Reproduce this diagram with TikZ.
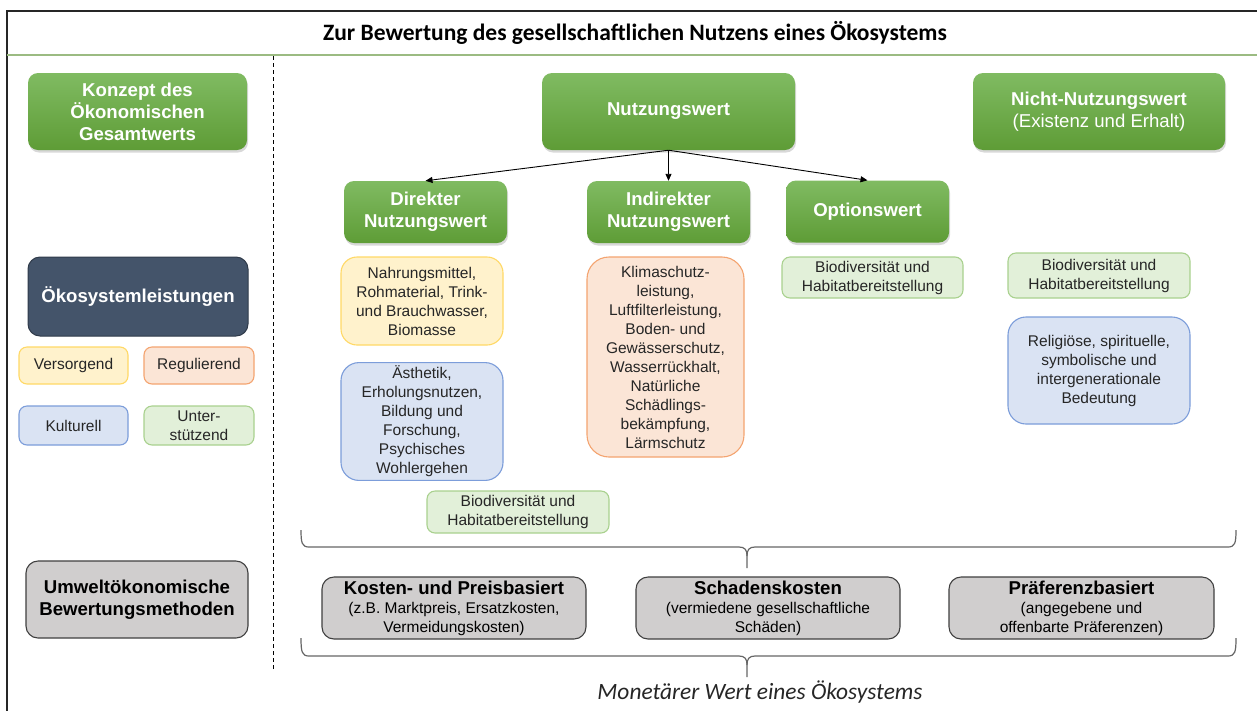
\documentclass[tikz,border=0pt]{standalone}
\usepackage{fontspec}
\setmainfont{Liberation Sans}
\newfontfamily\calibri{Carlito}
\usetikzlibrary{shadows,arrows.meta}

\definecolor{gtop}{HTML}{80BB62}
\definecolor{gbot}{HTML}{5E9C36}
\definecolor{slate}{HTML}{44546A}
\definecolor{yfill}{HTML}{FFF2CC}
\definecolor{yline}{HTML}{FFD966}
\definecolor{ofill}{HTML}{FBE5D6}
\definecolor{oline}{HTML}{F4A470}
\definecolor{bfill}{HTML}{DAE3F3}
\definecolor{bline}{HTML}{7C9DDA}
\definecolor{lgfill}{HTML}{E2F0D9}
\definecolor{lgline}{HTML}{A9D18E}
\definecolor{grfill}{HTML}{D0CECE}
\definecolor{txt}{HTML}{262626}
\definecolor{sepline}{HTML}{9BBB82}

\tikzset{
  big/.style={font=\fontsize{18.6}{22}\selectfont\bfseries},
  small/.style={font=\fontsize{15.5}{19}\selectfont},
  gbox/.style={big, align=center, text=white, rounded corners=10pt,
    top color=gtop, bottom color=gbot,
    drop shadow={opacity=0.3, shadow xshift=1pt, shadow yshift=-2.5pt}},
  dbox/.style={big, align=center, text=white, rounded corners=12pt,
    fill=slate, draw=slate!70!black, line width=1pt},
  tag/.style 2 args={small, align=center, text=txt, fill=#1, draw=#2,
    line width=1.1pt},
  mbox/.style={small, align=center, text=black, rounded corners=12pt,
    fill=grfill, draw=black!75, line width=1.1pt},
  arr/.style={-{Triangle[length=7pt,width=6pt]}, line width=0.9pt},
  brace/.style={draw=black!60, line width=1.2pt}
}

\begin{document}
\begin{tikzpicture}[x=1pt,y=-1pt]
\clip (0,0) rectangle (1257,710);
\fill[white] (0,0) rectangle (1257,710);

% Rahmen
\draw[line width=1.4pt, txt] (7,720) -- (7,11) -- (1270,11);
\draw[line width=1.2pt, sepline] (7,55) -- (1270,55);
\draw[dash pattern=on 4pt off 3pt, line width=0.9pt] (273,56) -- (273,670);
\node (titel) at (635,33) {\calibri\bfseries\fontsize{23.5}{27}\selectfont Zur Bewertung des gesellschaftlichen Nutzens eines Ökosystems};

% linke Spalte
\node[gbox, minimum width=219pt, minimum height=77pt] (konzept) at (137.5,111.5) {Konzept des\\Ökonomischen\\Gesamtwerts};
\node[dbox, minimum width=220pt, minimum height=79pt] (oesl) at (138,296.5) {Ökosystemleistungen};
\node[tag={yfill}{yline}, rounded corners=8pt, minimum width=109pt, minimum height=37pt] (versorgend) at (73.5,365.5) {Versorgend};
\node[tag={ofill}{oline}, rounded corners=8pt, minimum width=110pt, minimum height=37pt] (regulierend) at (199,365.5) {Regulierend};
\node[tag={bfill}{bline}, rounded corners=8pt, minimum width=109pt, minimum height=39pt] (kulturell) at (73.5,425.5) {Kulturell};
\node[tag={lgfill}{lgline}, rounded corners=8pt, minimum width=110pt, minimum height=39pt, inner sep=1pt] (unterst) at (199,425.5) {Unter-\\stützend};
\node[mbox, big, minimum width=222pt, minimum height=77pt] (methoden) at (137,599.5) {Umweltökonomische\\Bewertungsmethoden};

% Werte
\node[gbox, minimum width=253pt, minimum height=77pt] (nutzung) at (668.5,111.5) {Nutzungswert};
\node[gbox, minimum width=252pt, minimum height=77pt] (nicht) at (1099,111.5) {Nicht-Nutzungswert\\{\mdseries (Existenz und Erhalt)}};
\node[gbox, minimum width=163pt, minimum height=62pt] (direkt) at (425.5,212) {Direkter\\Nutzungswert};
\node[gbox, minimum width=163pt, minimum height=62pt] (indirekt) at (668.5,212) {Indirekter\\Nutzungswert};
\node[gbox, minimum width=163pt, minimum height=62pt] (option) at (867.5,211.5) {Optionswert};

\draw[arr] (nutzung.south) -- (direkt.north);
\draw[arr] (nutzung.south) -- (indirekt.north);
\draw[arr] (nutzung.south) -- (option.north);

% Leistungen
\node[tag={yfill}{yline}, rounded corners=16pt, minimum width=162pt, minimum height=88pt] (versorg) at (422,301) {Nahrungsmittel,\\Rohmaterial, Trink-\\und Brauchwasser,\\Biomasse};
\node[tag={bfill}{bline}, rounded corners=18pt, minimum width=162pt, minimum height=117pt] (kultur) at (422,421.5) {Ästhetik,\\Erholungsnutzen,\\Bildung und\\Forschung,\\Psychisches\\Wohlergehen};
\node[tag={lgfill}{lgline}, rounded corners=8pt, minimum width=182pt, minimum height=42pt] (biodiva) at (518,512) {Biodiversität und\\Habitatbereitstellung};
\node[tag={ofill}{oline}, rounded corners=22pt, minimum width=157pt, minimum height=200pt] (regul) at (665.5,357) {Klimaschutz-\\leistung,\\Luftfilterleistung,\\Boden- und\\Gewässerschutz,\\Wasserrückhalt,\\Natürliche\\Schädlings-\\bekämpfung,\\Lärmschutz};
\node[tag={lgfill}{lgline}, rounded corners=8pt, minimum width=181pt, minimum height=41pt] (biodivb) at (872.5,277.5) {Biodiversität und\\Habitatbereitstellung};
\node[tag={lgfill}{lgline}, rounded corners=8pt, minimum width=182pt, minimum height=45pt] (biodivc) at (1099,275.5) {Biodiversität und\\Habitatbereitstellung};
\node[tag={bfill}{bline}, rounded corners=18pt, minimum width=182pt, minimum height=107pt] (kulturb) at (1099,370.5) {Religiöse, spirituelle,\\symbolische und\\intergenerationale\\Bedeutung};

% Klammern
\draw[brace] (301,530) .. controls (301,543) and (302,547) .. (309,547) -- (739,547) .. controls (745,547) and (747,550) .. (747,556) -- (747,568);
\draw[brace] (1236,530) .. controls (1236,543) and (1235,547) .. (1228,547) -- (755,547) .. controls (749,547) and (747,550) .. (747,556);
\draw[brace] (301,638) .. controls (301,652) and (302,656) .. (309,656) -- (739,656) .. controls (745,656) and (747,659) .. (747,665) -- (747,677);
\draw[brace] (1236,638) .. controls (1236,652) and (1235,656) .. (1228,656) -- (755,656) .. controls (749,656) and (747,659) .. (747,665);

% Methoden
\node[mbox, minimum width=264pt, minimum height=62pt] (kosten) at (454,608) {{\bfseries\fontsize{18.6}{22}\selectfont Kosten- und Preisbasiert}\\(z.B. Marktpreis, Ersatzkosten,\\Vermeidungskosten)};
\node[mbox, minimum width=264pt, minimum height=62pt] (schaden) at (768,608) {{\bfseries\fontsize{18.6}{22}\selectfont Schadenskosten}\\(vermiedene gesellschaftliche\\Schäden)};
\node[mbox, minimum width=265pt, minimum height=62pt] (praeferenz) at (1081.5,608) {{\bfseries\fontsize{18.6}{22}\selectfont Präferenzbasiert}\\(angegebene und\\offenbarte Präferenzen)};

\node[text=txt] (monetaer) at (760,692) {\calibri\itshape\fontsize{23.4}{27}\selectfont Monetärer Wert eines Ökosystems};
\end{tikzpicture}
\end{document}
